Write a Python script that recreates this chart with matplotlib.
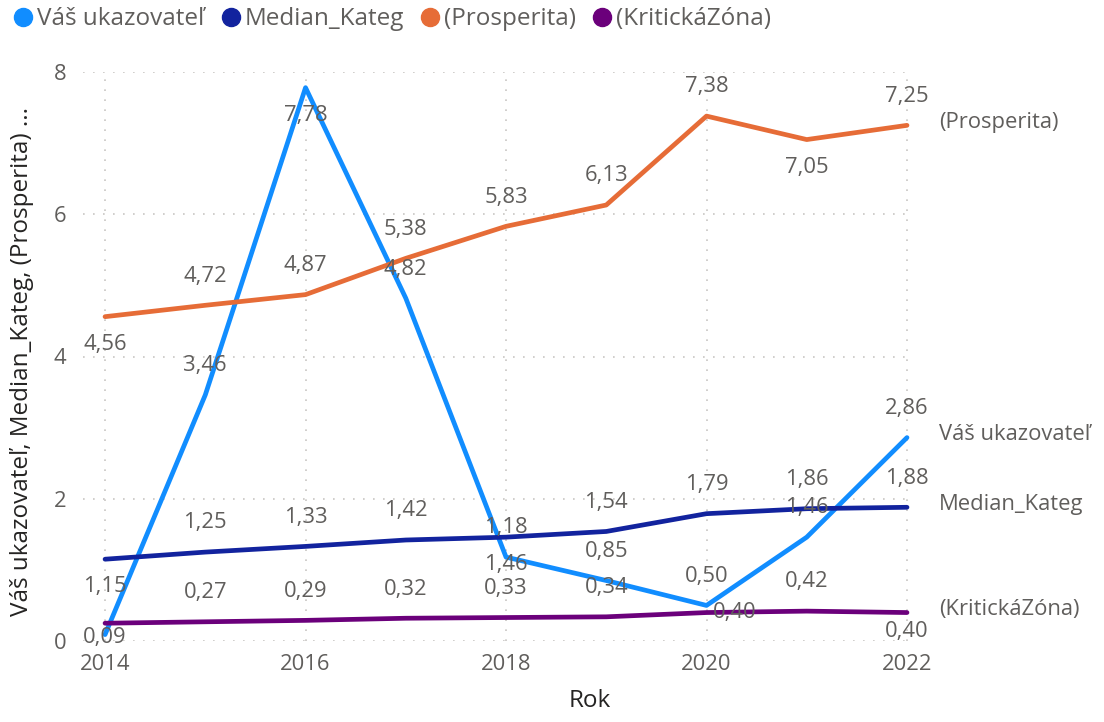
import matplotlib.pyplot as plt
from matplotlib.lines import Line2D

plt.rcParams['font.family'] = ['Open Sans', 'DejaVu Sans']

years = [2014, 2015, 2016, 2017, 2018, 2019, 2020, 2021, 2022]
vas = [0.09, 3.46, 7.78, 4.82, 1.18, 0.85, 0.50, 1.46, 2.86]
median = [1.15, 1.25, 1.33, 1.42, 1.46, 1.54, 1.79, 1.86, 1.88]
prosperita = [4.56, 4.72, 4.87, 5.38, 5.83, 6.13, 7.38, 7.05, 7.25]
kriticka = [0.25, 0.27, 0.29, 0.32, 0.33, 0.34, 0.40, 0.42, 0.40]

names = ['Váš ukazovateľ', 'Median_Kateg', '(Prosperita)', '(KritickáZóna)']
colors = ['#118DFF', '#12239E', '#E66C37', '#6B007B']

# label placement per point: 'a' above, 'b' below, 'r' right, None hidden
pos_vas = ['b', 'a', 'b', 'a', 'a', 'a', 'a', 'a', 'a']
pos_med = ['b', 'a', 'a', 'a', 'b', 'a', 'a', 'a', 'a']
pos_pro = ['b', 'a', 'a', 'a', 'a', 'a', 'a', 'b', 'a']
pos_kri = [None, 'a', 'a', 'a', 'a', 'a', 'r', 'a', 'b']

grey = '#605E5C'
fs = 15.8

fig = plt.figure(figsize=(11.04, 7.22), dpi=100)
ax = fig.add_axes([83 / 1104, 81 / 722, 829 / 1104, 569 / 722])
ax.set_xlim(2013.78, 2022.05)
ax.set_ylim(0, 8)

series = [vas, median, prosperita, kriticka]
positions = [pos_vas, pos_med, pos_pro, pos_kri]
for vals, col in zip(series, colors):
    ax.plot(years, vals, color=col, lw=3.4, solid_capstyle='round', zorder=3)

for vals, poss in zip(series, positions):
    for x, v, p in zip(years, vals, poss):
        if p is None:
            continue
        txt = f'{v:.2f}'.replace('.', ',')
        if p == 'a':
            off = (0, 21)
        elif p == 'b':
            off = (0, -20)
        else:
            off = (20, 0)
        if x == 2014 and p == 'b' and v < 0.5:
            off = (0, -2)
        if x == 2022 and p == 'b' and v < 0.5:
            off = (0, -14)
        ax.annotate(txt, (x, v), xytext=off, textcoords='offset points',
                    ha='center', va='center', fontsize=fs, color=grey,
                    zorder=4)

# series names at the line ends
for vals, name in zip(series, names):
    ax.annotate(name, (years[-1], vals[-1]), xytext=(23, 2),
                textcoords='offset points', ha='left', va='center',
                fontsize=fs, color=grey, annotation_clip=False)

ax.set_xticks([2014, 2016, 2018, 2020, 2022])
ax.set_yticks([0, 2, 4, 6, 8])
ax.tick_params(length=0, labelsize=fs, labelcolor=grey)
ax.tick_params(axis='y', pad=12)
ax.tick_params(axis='x', pad=9)
ax.grid(True, color='#C8C6C4', linestyle=(0, (1, 5)), linewidth=1.2)
for s in ax.spines.values():
    s.set_visible(False)

fig.text(22 / 1104, 1 - 362 / 722, 'Váš ukazovateľ, Median_Kateg, (Prosperita) ...',
         rotation=90, ha='center', va='center', fontsize=17.5, color='#252423')
fig.text(590 / 1104, 1 - 701 / 722, 'Rok', ha='center', va='center',
         fontsize=17.5, color='#252423')

handles = [Line2D([], [], marker='o', linestyle='none', markersize=13,
                  markerfacecolor=c, markeredgecolor=c) for c in colors]
fig.legend(handles, names, loc='upper left', bbox_to_anchor=(-0.003, 1.01),
           ncol=4, frameon=False, fontsize=17.5, labelcolor=grey,
           handletextpad=0.05, columnspacing=0.6, handlelength=1.0,
           borderaxespad=0.2)

fig.savefig('out.png', dpi=100)
